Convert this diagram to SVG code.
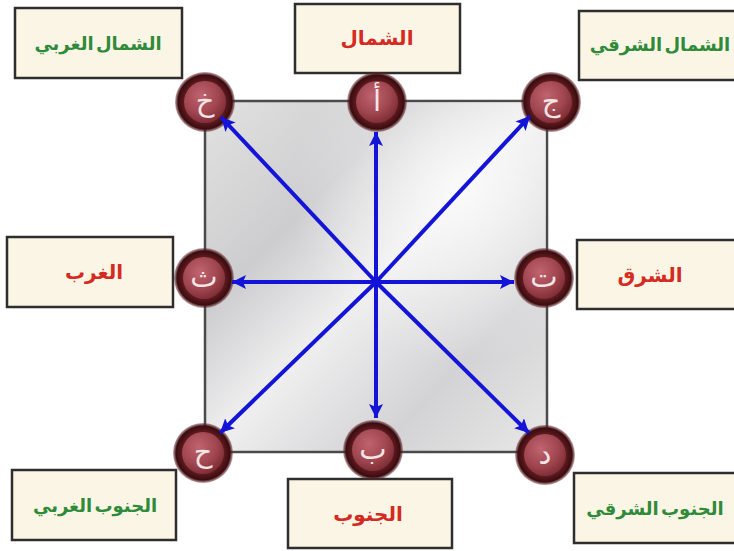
<svg xmlns="http://www.w3.org/2000/svg" width="734" height="551" viewBox="0 0 734 551">
<defs>
<linearGradient id="sq" x1="0" y1="0" x2="1" y2="1">
<stop offset="0" stop-color="#e2e2e2"/>
<stop offset="0.3" stop-color="#cdcdcf"/>
<stop offset="0.5" stop-color="#efeff0"/>
<stop offset="0.75" stop-color="#d3d3d5"/>
<stop offset="1" stop-color="#e8e8e8"/>
</linearGradient>
<radialGradient id="sqhi" cx="0.75" cy="0.25" r="0.5">
<stop offset="0" stop-color="#ffffff" stop-opacity="0.7"/>
<stop offset="1" stop-color="#ffffff" stop-opacity="0"/>
</radialGradient>
<radialGradient id="ring" cx="0.5" cy="0.5" r="0.5">
<stop offset="0.7" stop-color="#5e1a1f"/>
<stop offset="0.9" stop-color="#3a0c0f"/>
<stop offset="1" stop-color="#6a2a2e" stop-opacity="0.4"/>
</radialGradient>
<radialGradient id="disc" cx="0.4" cy="0.35" r="0.7">
<stop offset="0" stop-color="#c0646e"/>
<stop offset="0.6" stop-color="#a04650"/>
<stop offset="1" stop-color="#7a2a33"/>
</radialGradient>
<marker id="ah" markerUnits="userSpaceOnUse" markerWidth="16" markerHeight="14" refX="14" refY="7" orient="auto">
<path d="M0,0 L14,7 L0,14 L3,7 z" fill="#1414d8"/>
</marker>
<style>
.box{fill:#fbf5e6;stroke:#2e2e2e;stroke-width:2.5}
.lbl{font-family:"DejaVu Sans",sans-serif;font-weight:bold;font-size:20px;text-anchor:middle;dominant-baseline:central}
.g{fill:#2f8a3a;font-size:18px;word-spacing:-4px}
.r{fill:#d42a22}
.ring{fill:url(#ring)}
.disc{fill:url(#disc)}
.ltr{font-family:"DejaVu Sans",sans-serif;font-size:29px;fill:#f5e4e4;text-anchor:middle;dominant-baseline:central}
.arr{stroke:#1414d8;stroke-width:4;fill:none;marker-end:url(#ah)}
</style>
</defs>
<rect width="734" height="551" fill="#ffffff"/>
<g id="square">
<rect x="205" y="101" width="342" height="351" fill="url(#sq)" stroke="#4a4a4a" stroke-width="2.5"/>
<rect x="206" y="102" width="340" height="349" fill="url(#sqhi)"/>
</g>
<g id="nw">
<rect class="box" x="15" y="8" width="167" height="70"/>
<text class="lbl g" x="98" y="43">الشمال الغربي</text>
<circle class="ring" cx="205" cy="102" r="30"/>
<circle class="disc" cx="205" cy="102" r="21"/>
<text class="ltr" x="205" y="101">خ</text>
</g>
<g id="n">
<rect class="box" x="295" y="4" width="165" height="69"/>
<text class="lbl r" x="377" y="38">الشمال</text>
<circle class="ring" cx="377" cy="102" r="30"/>
<circle class="disc" cx="377" cy="102" r="21"/>
<text class="ltr" x="377" y="101">أ</text>
</g>
<g id="ne">
<rect class="box" x="579" y="11" width="160" height="69"/>
<text class="lbl g" x="660" y="44">الشمال الشرقي</text>
<circle class="ring" cx="551" cy="102" r="30"/>
<circle class="disc" cx="551" cy="102" r="21"/>
<text class="ltr" x="551" y="101">ج</text>
</g>
<g id="w">
<rect class="box" x="7" y="237" width="166" height="70"/>
<text class="lbl r" x="94" y="272">الغرب</text>
<circle class="ring" cx="204" cy="278" r="30"/>
<circle class="disc" cx="204" cy="278" r="21"/>
<text class="ltr" x="204" y="277">ث</text>
</g>
<g id="e">
<rect class="box" x="577" y="240" width="162" height="69"/>
<text class="lbl r" x="650" y="275">الشرق</text>
<circle class="ring" cx="544" cy="278" r="30"/>
<circle class="disc" cx="544" cy="278" r="21"/>
<text class="ltr" x="544" y="277">ت</text>
</g>
<g id="sw">
<rect class="box" x="12" y="470" width="164" height="70"/>
<text class="lbl g" x="95" y="505">الجنوب الغربي</text>
<circle class="ring" cx="203" cy="453" r="30"/>
<circle class="disc" cx="203" cy="453" r="21"/>
<text class="ltr" x="203" y="452">ح</text>
</g>
<g id="s">
<rect class="box" x="288" y="479" width="164" height="69"/>
<text class="lbl r" x="368" y="514">الجنوب</text>
<circle class="ring" cx="373" cy="450" r="30"/>
<circle class="disc" cx="373" cy="450" r="21"/>
<text class="ltr" x="373" y="449">ب</text>
</g>
<g id="se">
<rect class="box" x="574" y="473" width="165" height="70"/>
<text class="lbl g" x="655" y="508">الجنوب الشرقي</text>
<circle class="ring" cx="545" cy="455" r="30"/>
<circle class="disc" cx="545" cy="455" r="21"/>
<text class="ltr" x="545" y="454">د</text>
</g>
<g id="connectors">
<line class="arr" x1="376" y1="282" x2="376" y2="132"/>
<line class="arr" x1="376" y1="282" x2="376" y2="418"/>
<line class="arr" x1="376" y1="282" x2="232" y2="282"/>
<line class="arr" x1="376" y1="282" x2="514" y2="282"/>
<line class="arr" x1="376" y1="282" x2="221" y2="117"/>
<line class="arr" x1="376" y1="282" x2="530" y2="116"/>
<line class="arr" x1="376" y1="282" x2="220" y2="433"/>
<line class="arr" x1="376" y1="282" x2="529" y2="433"/>
</g>
</svg>
